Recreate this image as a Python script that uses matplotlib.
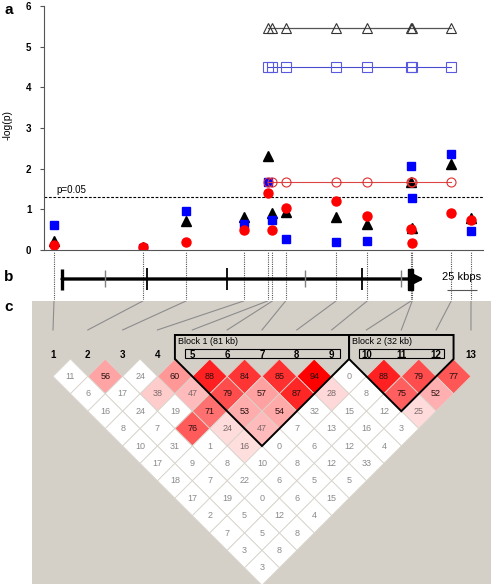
import matplotlib
matplotlib.use("Agg")
import matplotlib.pyplot as plt
from matplotlib.patches import Polygon, Rectangle

plt.rcParams["font.family"] = ["Liberation Sans", "DejaVu Sans"]

W, H = 493, 586

# marker positions (kb from marker 1)
snp_kb = [0, 74, 110, 158, 178, 182, 193, 235, 261, 297.5, 298.5, 331, 347.5]
snp_labels = [str(i) for i in range(1, 14)]

# single-marker -log(p), three tests
tri_logp = [0.22, 0.07, 0.72, 0.8, 2.3, 0.9, 0.93, 0.8, 0.63, 1.68, 0.53, 2.12, 0.78]
sq_logp = [0.62, 0.05, 0.96, 0.65, 1.68, 0.75, 0.27, 0.2, 0.22, 2.07, 1.27, 2.37, 0.46]
circ_logp = [0.13, 0.07, 0.2, 0.49, 1.39, 0.49, 1.03, 1.2, 0.83, 0.51, 0.17, 0.9, 0.73]

# haplotype tests (markers 5-12)
hap_idx = [4, 5, 6, 7, 8, 9, 10, 11]
hap_tri = [5.45, 5.45, 5.45, 5.45, 5.45, 5.45, 5.45, 5.45]
hap_sq = [4.5, 4.5, 4.5, 4.5, 4.5, 4.5, 4.5, 4.5]
hap_circ = [1.68, 1.68, 1.68, 1.68, 1.68, 1.68, 1.68, 1.68]

# gene structure (kb)
gene_start, gene_end = 6.7, 308.5
exon_gray = [42.5, 209, 289]
exon_black = [77.5, 144, 257]
exon_block = (295, 299)
scale_bar = (327.5, 352.5)

# pairwise LD (x100), one list per diagonal
ld_rows = [
    [11, 56, 24, 60, 88, 84, 85, 94, 0, 88, 79, 77],
    [6, 17, 38, 47, 79, 57, 87, 28, 8, 75, 52],
    [16, 24, 19, 71, 53, 54, 32, 15, 12, 25],
    [8, 7, 76, 24, 47, 7, 13, 16, 3],
    [10, 31, 1, 16, 0, 6, 12, 4],
    [17, 9, 8, 10, 8, 12, 33],
    [18, 7, 22, 6, 5, 5],
    [17, 19, 0, 6, 15],
    [2, 5, 12, 4],
    [7, 5, 8],
    [3, 8],
    [3],
]
ld_sig = [
    [0, 1, 0, 1, 1, 1, 1, 1, 0, 1, 1, 1],
    [0, 0, 1, 1, 1, 1, 1, 1, 0, 1, 1],
    [0, 0, 0, 1, 1, 1, 0, 0, 0, 1],
    [0, 0, 1, 1, 1, 0, 0, 0, 0],
    [0, 0, 0, 1, 0, 0, 0, 0],
    [0, 0, 0, 0, 0, 0, 0],
    [0, 0, 0, 0, 0, 0],
    [0, 0, 0, 0, 0],
    [0, 0, 0, 0],
    [0, 0, 0],
    [0, 0],
    [0],
]
blocks = [(5, 9, "Block 1 (81 kb)"), (10, 12, "Block 2 (32 kb)")]


def px_axes(fig, x0, y0, x1, y1):
    return fig.add_axes([x0 / W, 1 - y1 / H, (x1 - x0) / W, (y1 - y0) / H])


def cell_color(v, s):
    if not s:
        return (1, 1, 1), "#8a8a8a"
    a = 0.13 + 0.87 * max(0.0, (v - 16) / 78) ** 2
    a = min(a, 1.0)
    txt = "#2a1010" if a > 0.3 else "#7a6a6a"
    return (1, 1 - a, 1 - a), txt


fig = plt.figure(figsize=(W / 100, H / 100), dpi=100)
xlim = (-8.33, 357.5)

# ---- panel a
ax_a = px_axes(fig, 44, 6, 483, 250)
ax_a.set_xlim(*xlim)
ax_a.set_ylim(0, 6)
for side in ("top", "right"):
    ax_a.spines[side].set_visible(False)
for side in ("left", "bottom"):
    ax_a.spines[side].set_color("#555555")
ax_a.set_xticks([])
ax_a.set_yticks(range(7))
ax_a.tick_params(axis="y", length=3, labelsize=7, color="#555555", pad=6)
for lab in ax_a.get_yticklabels():
    lab.set_fontweight("bold")

ax_a.axhline(1.301, color="black", lw=0.8, ls=(0, (2.5, 1.5)))
ax_a.text(2, 1.36, "p=0.05", fontsize=7, ha="left", va="bottom")

hx = [snp_kb[i] for i in hap_idx]
ax_a.plot(hx, hap_tri, color="#555555", lw=0.9, marker="^", mfc="none",
          mec="#333333", ms=7, mew=0.8)
ax_a.plot(hx, hap_sq, color="#4a4ad0", lw=0.8, marker="s", mfc="none",
          mec="#5a5ae0", ms=6.5, mew=0.8)

ax_a.plot(snp_kb, tri_logp, ls="none", marker="^", color="black", ms=7)
ax_a.plot(snp_kb, sq_logp, ls="none", marker="s", color="#0000ff", ms=6)
ax_a.plot(snp_kb, circ_logp, ls="none", marker="o", color="#ff0000", ms=6.5)

ax_a.plot(hx, hap_circ, color="#dd4444", lw=0.8, marker="o", mfc="none",
          mec="#e03030", ms=6.5, mew=0.8)

fig.text(8 / W, 1 - 125 / H, "-log(p)", rotation=90, fontsize=7.5,
         ha="center", va="center")

# ---- panel b
ax_b = px_axes(fig, 44, 252, 483, 300)
ax_b.set_xlim(*xlim)
ax_b.set_ylim(0, 1)
ax_b.axis("off")
gy = 0.4375
ax_b.vlines(snp_kb, 0, 1, colors="#555555", lw=0.8, linestyles=(0, (1, 1)), zorder=1)
ax_b.annotate("", xy=(gene_end, gy), xytext=(gene_start, gy),
              arrowprops=dict(arrowstyle="-|>,head_length=0.7,head_width=0.35",
                              lw=2.4, color="black", shrinkA=0, shrinkB=0), zorder=3)
ax_b.vlines([gene_start], 0.21, 0.64, colors="black", lw=2.4, zorder=3)
ax_b.vlines(exon_gray, 0.27, 0.62, colors="#808080", lw=1.0, zorder=3)
ax_b.vlines(exon_black, 0.21, 0.66, colors="black", lw=1.3, zorder=3)
ax_b.add_patch(Rectangle((exon_block[0], 0.21), exon_block[1] - exon_block[0], 0.43,
                         color="black", zorder=3))
ax_b.hlines(0.21, *scale_bar, colors="#555555", lw=0.8)
ax_b.text(sum(scale_bar) / 2, 0.47, "25 kbps", fontsize=8, ha="center", va="center")

# ---- panel c
ax_c = px_axes(fig, 32, 301, 491, 584)
ax_c.set_xlim(0.397, 13.575)
ax_c.set_ylim(12.93, -3.333)
ax_c.set_facecolor("#d4d0c8")
ax_c.set_xticks([])
ax_c.set_yticks([])
for sp in ax_c.spines.values():
    sp.set_visible(False)

# connecting lines from physical position to marker column
for i, kb in enumerate(snp_kb, start=1):
    xd = ax_b.transData.transform((kb, 0))[0]
    xc = ax_c.transData.inverted().transform((xd, 0))[0]
    ax_c.plot([xc, i], [-3.333, -1.67], color="#8c8c8c", lw=0.8)
    ax_c.text(i, -0.23, snp_labels[i - 1], fontsize=7, fontweight="bold",
              ha="center", va="center")

for r, (vals, sig) in enumerate(zip(ld_rows, ld_sig), start=1):
    for k, (v, s) in enumerate(zip(vals, sig)):
        i, j = k + 1, k + 1 + r
        cx = (i + j) / 2
        fc, tc = cell_color(v, s)
        ax_c.add_patch(Polygon([(cx - 0.5, r), (cx, r - 1), (cx + 0.5, r), (cx, r + 1)],
                               closed=True, fc=fc, ec="#d8d4cc", lw=0.6))
        ax_c.text(cx, r, str(v), fontsize=6.5, color=tc, ha="center", va="center")

for a, b, name in blocks:
    ax_c.add_patch(Polygon([(a - 0.5, -1.38), (b + 0.5, -1.38), (b + 0.5, 0),
                            ((a + b) / 2, b - a + 1), (a - 0.5, 0)],
                           closed=True, fill=False, ec="black", lw=1.4))
    ax_c.add_patch(Rectangle((a - 0.21, -0.575), (b - a) + 0.44, 0.515,
                             fill=False, ec="black", lw=0.8))
    ax_c.text(a - 0.42, -0.98, name, fontsize=6.5, ha="left", va="center")

# panel letters
for letter, y in (("a", 10), ("b", 277), ("c", 307)):
    fig.text(9 / W, 1 - y / H, letter, fontsize=11, fontweight="bold",
             ha="center", va="center")

fig.savefig("out.png", dpi=100)
